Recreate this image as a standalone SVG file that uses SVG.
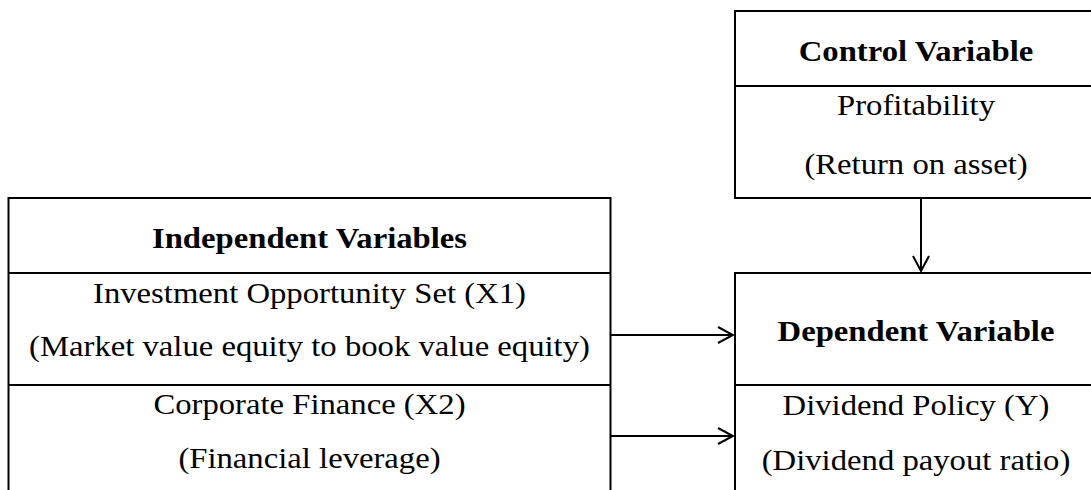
<svg xmlns="http://www.w3.org/2000/svg" width="1091" height="490" viewBox="0 0 1091 490">
<defs>
<style>
.box{fill:#fff;stroke:#000;stroke-width:2}
.ln{stroke:#000;stroke-width:2;fill:none}
.t{font-family:"Liberation Serif","Times New Roman",serif;font-size:30px;fill:#000;text-anchor:middle}
.b{font-weight:bold}
</style>
<marker id="ah" viewBox="0 0 20 20" refX="18" refY="10" markerWidth="20" markerHeight="20" markerUnits="userSpaceOnUse" orient="auto">
<path d="M3,2 L18,10 L3,18" fill="none" stroke="#000" stroke-width="2"/>
</marker>
</defs>
<rect width="1091" height="490" fill="#fff"/>
<g id="independent">
<rect class="box" x="8.5" y="198" width="602" height="300"/>
<line class="ln" x1="8.5" y1="273" x2="610.5" y2="273"/>
<line class="ln" x1="8.5" y1="385" x2="610.5" y2="385"/>
<g transform="translate(309.5,0) scale(1.09,1)">
<text class="t b" x="0" y="248">Independent Variables</text>
<text class="t" x="0" y="303">Investment Opportunity Set (X1)</text>
<text class="t" x="0" y="356">(Market value equity to book value equity)</text>
<text class="t" x="0" y="414">Corporate Finance (X2)</text>
<text class="t" x="0" y="468">(Financial leverage)</text>
</g>
</g>
<g id="control">
<rect class="box" x="735" y="11" width="362" height="187"/>
<line class="ln" x1="735" y1="86" x2="1097" y2="86"/>
<g transform="translate(916,0) scale(1.09,1)">
<text class="t b" x="0" y="61">Control Variable</text>
<text class="t" x="0" y="115">Profitability</text>
<text class="t" x="0" y="174">(Return on asset)</text>
</g>
</g>
<g id="dependent">
<rect class="box" x="735" y="273" width="362" height="230"/>
<line class="ln" x1="735" y1="385" x2="1097" y2="385"/>
<g transform="translate(916,0) scale(1.09,1)">
<text class="t b" x="0" y="341">Dependent Variable</text>
<text class="t" x="0" y="415">Dividend Policy (Y)</text>
<text class="t" x="0" y="470">(Dividend payout ratio)</text>
</g>
</g>
<g id="connectors">
<line class="ln" x1="921" y1="198" x2="921" y2="271" marker-end="url(#ah)"/>
<line class="ln" x1="610" y1="335" x2="733" y2="335" marker-end="url(#ah)"/>
<line class="ln" x1="610" y1="436" x2="733" y2="436" marker-end="url(#ah)"/>
</g>
</svg>
